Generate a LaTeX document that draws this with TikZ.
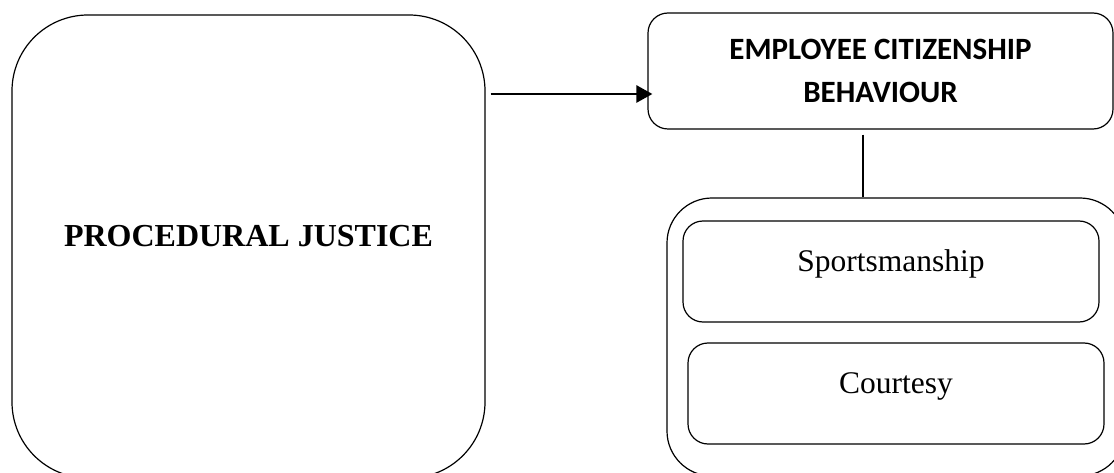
\documentclass[tikz,border=0pt]{standalone}
\usepackage{fontspec}
\setmainfont{Liberation Serif}
\newfontfamily\calfont{Carlito}
\usepackage{tikz}
\usetikzlibrary{positioning,arrows.meta,calc}

\begin{document}
\begin{tikzpicture}[
    x=1pt, y=-1pt,
    box/.style={draw, line width=1.2pt, inner sep=0pt},
    bigbox/.style={box, rounded corners=76pt,
                  font=\bfseries\fontsize{32}{38}\selectfont,
                  text height=12pt, text depth=12pt},
    headbox/.style={box, rounded corners=20pt, align=center,
                  font=\calfont\bfseries\fontsize{31}{43}\selectfont},
    itembox/.style={box, rounded corners=20pt,
                  minimum width=416pt, minimum height=101pt,
                  font=\fontsize{31.5}{37}\selectfont,
                  text height=11pt, text depth=11pt},
    link/.style={line width=2.6pt, -{Triangle[length=16pt,width=17pt]}},
]
\useasboundingbox (0,0) rectangle (1114,473);

\node[bigbox, minimum width=473pt, minimum height=463pt]
    (pj) at (248.5,246.5) {PROCEDURAL JUSTICE};
\node[headbox, minimum width=465pt, minimum height=116pt]
    (ecb) at (880.5,71) {EMPLOYEE CITIZENSHIP\\BEHAVIOUR};
\node[box, rounded corners=45pt, minimum width=458pt, minimum height=278pt]
    (dims) at (896,337) {};
\node[itembox] (sport) at (891,271.5) {Sportsmanship};
\node[itembox] (court) at (896,393.5) {Courtesy};

\draw[link, shorten <=5pt, shorten >=-5pt]
    ([yshift=-23pt]ecb.west -| pj.east) -- ([yshift=-23pt]ecb.west);
\draw[line width=1.2pt, shorten <=5pt]
    ([xshift=-17.5pt]ecb.south) -- ([xshift=-17.5pt]ecb.south |- dims.north);
\end{tikzpicture}
\end{document}
